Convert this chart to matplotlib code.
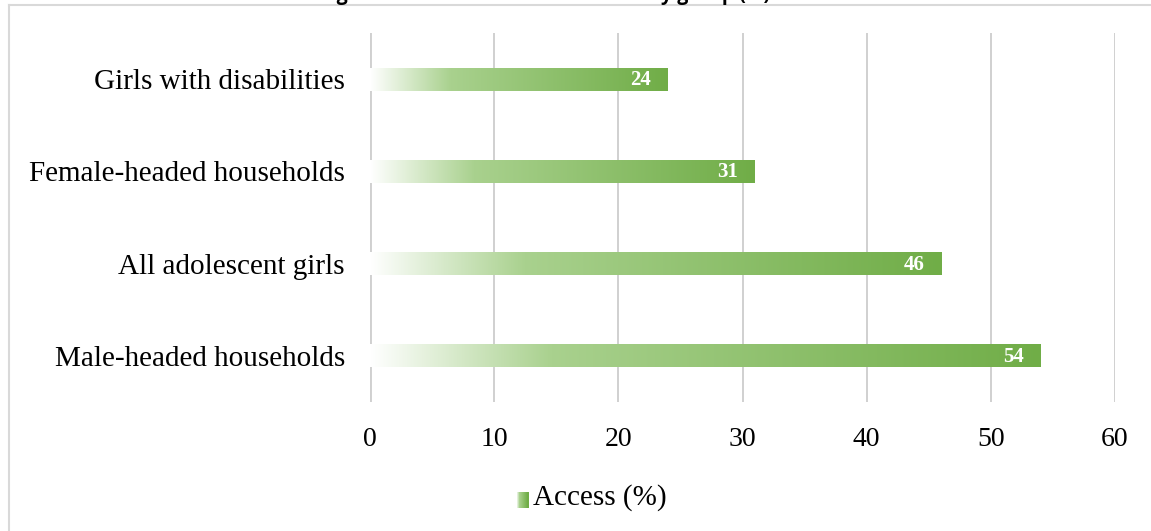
import numpy as np
from matplotlib import pyplot as plt
from matplotlib.colors import LinearSegmentedColormap
from matplotlib.patches import Rectangle
from matplotlib.lines import Line2D
from matplotlib.legend_handler import HandlerBase

groups=['Male-headed households','All adolescent girls','Female-headed households','Girls with disabilities']
access=[54,46,31,24]
ticks=[0,10,20,30,40,50,60]

serif=['Liberation Serif','DejaVu Serif']
green=LinearSegmentedColormap.from_list('g',[(0,'#ffffff'),(0.27,'#a9d18e'),(1,'#70ad47')])

fig=plt.figure(figsize=(11.51,5.31),dpi=100)
ax=fig.add_axes([370/1151,129/531,745/1151,369/531])

# bars: drawn empty, gradient filled inside each one
y=np.arange(len(groups))
bars=ax.barh(y,access,height=0.25,color='none',edgecolor='none',zorder=3)
grad=np.linspace(0,1,256).reshape(1,-1)
for b in bars:
    x0,y0=b.get_x(),b.get_y()
    im=ax.imshow(grad,cmap=green,aspect='auto',extent=(x0,x0+b.get_width(),y0,y0+b.get_height()),zorder=3)
    im.set_clip_path(b)

for i,v in enumerate(access):
    ax.annotate(str(v),(v,i),xytext=(-17,-1),textcoords='offset pixels',ha='right',va='center',
                color='white',fontweight='bold',fontsize=15,family=serif,zorder=4)

ax.set_xlim(0,60)
ax.set_ylim(-0.5,3.5)
ax.set_xticks(ticks)
ax.set_yticks(y)
ax.set_yticklabels(groups,family=serif,fontsize=21)
ax.set_xticklabels([str(t) for t in ticks],family=serif,fontsize=20)
ax.tick_params(length=0)
ax.tick_params(axis='x',pad=18)
ax.tick_params(axis='y',pad=18)
for s in ax.spines.values():
    s.set_visible(False)
ax.grid(axis='x',color='#c8c8c8',lw=1.2,zorder=1)
ax.axvline(0,color='#d0d0d0',lw=2.8,zorder=2)

# legend with small gradient square
class GradHandler(HandlerBase):
    def create_artists(self,legend,orig,xd,yd,w,h,fs,trans):
        n=12
        out=[]
        for k in range(n):
            out.append(Rectangle((xd+w*k/n,yd),w/n+0.3,h,facecolor=green(k/(n-1)),edgecolor='none',transform=trans))
        return out

fig.legend([Rectangle((0,0),1,1)],['Access (%)'],handler_map={Rectangle:GradHandler()},
           loc='center',bbox_to_anchor=(591/1151,(531-498)/531),frameon=False,
           prop={'family':serif,'size':21},handlelength=0.45,handleheight=0.45,handletextpad=0.15)

# chart frame (left and top edges)
fig.add_artist(Line2D([8.5/1151,8.5/1151],[0,1-5/531],color='#d9d9d9',lw=1.5))
fig.add_artist(Line2D([8.5/1151,1],[1-5/531,1-5/531],color='#d9d9d9',lw=1.5))

# title cut off at the top of the picture
fig.text(545/1151,1.0,'Figure 5: Access to WASH services by group (%)',ha='center',va='baseline',
         fontsize=14,fontweight='bold',family=['Open Sans','DejaVu Sans'])

fig.savefig('out.png',dpi=100)
